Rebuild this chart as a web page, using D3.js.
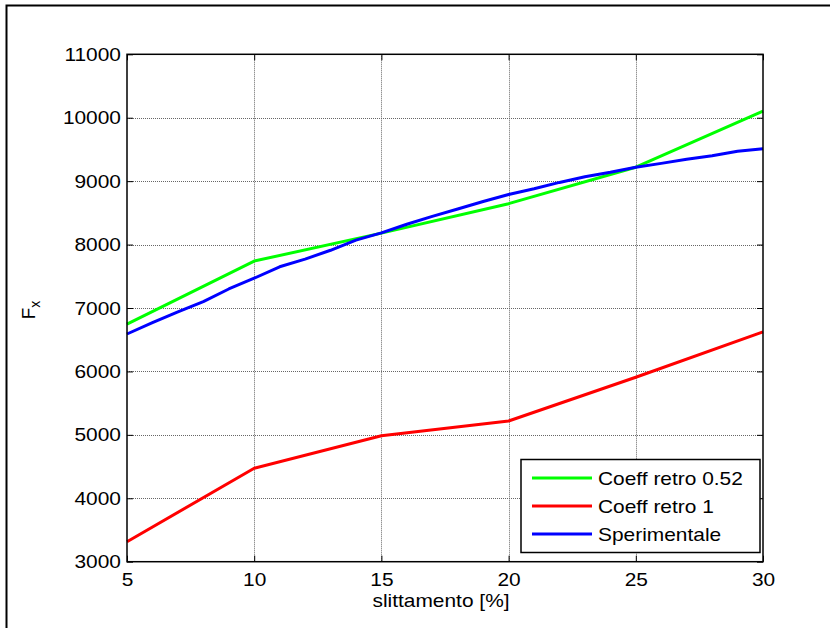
<!DOCTYPE html>
<html>
<head>
<meta charset="utf-8">
<script src="https://cdn.jsdelivr.net/npm/d3@7"></script>
<style>
  html, body { margin: 0; padding: 0; background: #fff; }
  svg { display: block; }
  text { font-family: "Liberation Sans", Arial, sans-serif; fill: #000; }
</style>
</head>
<body>
<svg id="chart" width="830" height="628"></svg>
<script>
// Slip values (%) for the model curves
const slipModel = [5, 10, 15, 20, 25, 30];
// Longitudinal force Fx, model with backward coefficient 0.52
const coeff052 = [6745, 7740, 8180, 8645, 9220, 10105];
// Longitudinal force Fx, model with backward coefficient 1
const coeff1 = [3315, 4473, 4987, 5219, 5908, 6624];
// Slip values (%) for the measured curve
const slipExp = [5, 6, 7, 8, 9, 10, 11, 12, 13, 14, 15, 16, 17, 18, 19, 20, 21, 22, 23, 24, 25, 26, 27, 28, 29, 30];
// Measured longitudinal force Fx
const sperimentale = [6590, 6770, 6940, 7100, 7300, 7470, 7650, 7770, 7910, 8070, 8185, 8320, 8445, 8560, 8680, 8790, 8880, 8980, 9070, 9140, 9220, 9280, 9345, 9400, 9470, 9510];

const xTicks = [5, 10, 15, 20, 25, 30];
const yTicks = [3000, 4000, 5000, 6000, 7000, 8000, 9000, 10000, 11000];
const legendLabels = ["Coeff retro 0.52", "Coeff retro 1", "Sperimentale"];
const seriesColors = ["#00ff00", "#ff0000", "#0000ff"];

const svg = d3.select("#chart");
const pL = 127, pR = 763, pT = 54.3, pB = 561.7;
const x = d3.scaleLinear().domain([5, 30]).range([pL, pR]);
const y = d3.scaleLinear().domain([3000, 11000]).range([pB, pT]);
const FS = 19;

// Figure frame
svg.append("rect").attr("x", 6.5).attr("y", 5.5).attr("width", 900).attr("height", 900)
  .attr("fill", "none").attr("stroke", "#000").attr("stroke-width", 2);

// Plot background
svg.append("rect").attr("x", pL).attr("y", pT).attr("width", pR - pL).attr("height", pB - pT)
  .attr("fill", "#fff");

// Dotted grid
const grid = svg.append("g").attr("stroke", "#666").attr("stroke-width", 1).attr("stroke-dasharray", "1,1");
grid.selectAll("line.gx").data(xTicks.slice(1, -1)).join("line")
  .attr("x1", d => Math.round(x(d)) + 0.5).attr("x2", d => Math.round(x(d)) + 0.5)
  .attr("y1", pT).attr("y2", pB);
grid.selectAll("line.gy").data(yTicks.slice(1, -1)).join("line")
  .attr("y1", d => Math.round(y(d)) + 0.5).attr("y2", d => Math.round(y(d)) + 0.5)
  .attr("x1", pL).attr("x2", pR);

// Axes with inward ticks on all sides
const tickLen = 6;
const fmt = d3.format("d");
const axB = svg.append("g").attr("transform", `translate(0,${pB})`)
  .call(d3.axisBottom(x).tickValues(xTicks).tickFormat(fmt).tickSizeInner(-tickLen).tickSizeOuter(0).tickPadding(11));
const axL = svg.append("g").attr("transform", `translate(${pL},0)`)
  .call(d3.axisLeft(y).tickValues(yTicks).tickFormat(fmt).tickSizeInner(-tickLen).tickSizeOuter(0).tickPadding(6));
const axT = svg.append("g").attr("transform", `translate(0,${pT})`)
  .call(d3.axisTop(x).tickValues(xTicks).tickSizeInner(-tickLen).tickSizeOuter(0).tickFormat(""));
const axR = svg.append("g").attr("transform", `translate(${pR},0)`)
  .call(d3.axisRight(y).tickValues(yTicks).tickSizeInner(-tickLen).tickSizeOuter(0).tickFormat(""));
[axB, axL, axT, axR].forEach(a => {
  a.select(".domain").remove();
  a.selectAll("line").attr("stroke", "#000").attr("stroke-width", 1);
  a.selectAll("text").attr("font-size", FS).attr("font-family", "Liberation Sans, Arial, sans-serif");
});

// Data lines
const line = d3.line().x(d => x(d[0])).y(d => y(d[1]));
const series = [
  slipModel.map((s, i) => [s, coeff052[i]]),
  slipModel.map((s, i) => [s, coeff1[i]]),
  slipExp.map((s, i) => [s, sperimentale[i]])
];
series.forEach((pts, i) => {
  svg.append("path").datum(pts).attr("d", line)
    .attr("fill", "none").attr("stroke", seriesColors[i]).attr("stroke-width", 3)
    .attr("stroke-linejoin", "round");
});

// Axes box
svg.append("rect").attr("x", pL).attr("y", pT).attr("width", pR - pL).attr("height", pB - pT)
  .attr("fill", "none").attr("stroke", "#000").attr("stroke-width", 1.5);

// Axis labels
svg.append("text").attr("x", 441).attr("y", 607).attr("text-anchor", "middle")
  .attr("font-size", FS).text("slittamento [%]");
const yl = svg.append("text").attr("transform", "translate(35,310) rotate(-90)")
  .attr("text-anchor", "middle").attr("font-size", FS);
yl.append("tspan").text("F");
yl.append("tspan").attr("font-size", 14).attr("dy", 5).text("x");

// Legend
const lg = svg.append("g");
lg.append("rect").attr("x", 521).attr("y", 459.5).attr("width", 239).attr("height", 93)
  .attr("fill", "#fff").attr("stroke", "#000").attr("stroke-width", 1.5);
legendLabels.forEach((lab, i) => {
  const yy = 478 + i * 28;
  lg.append("line").attr("x1", 532).attr("x2", 592).attr("y1", yy).attr("y2", yy)
    .attr("stroke", seriesColors[i]).attr("stroke-width", 3);
  lg.append("text").attr("x", 598).attr("y", yy + 7).attr("font-size", FS).text(lab);
});

// Widen all text slightly to the wider glyph proportions of the figure
svg.selectAll("text").each(function () {
  const el = this;
  if (el.textContent === "" || el.querySelector("tspan")) return;
  const w = el.getComputedTextLength();
  if (w > 0) {
    d3.select(el).attr("textLength", w * 1.1).attr("lengthAdjust", "spacingAndGlyphs");
  }
});
</script>
</body>
</html>
